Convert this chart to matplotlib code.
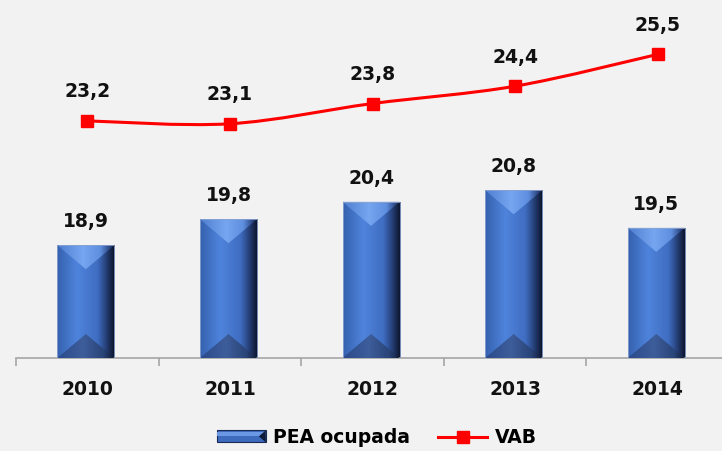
import numpy as np
import matplotlib
matplotlib.use("Agg")
import matplotlib.pyplot as plt
from matplotlib.colors import LinearSegmentedColormap
from matplotlib.patches import Polygon, Rectangle, PathPatch
from matplotlib.path import Path
from matplotlib.lines import Line2D
from matplotlib.legend_handler import HandlerBase

# dados
anos = ["2010", "2011", "2012", "2013", "2014"]
pea_ocupada = [18.9, 19.8, 20.4, 20.8, 19.5]
vab = [23.2, 23.1, 23.8, 24.4, 25.5]

BG = "#F2F2F2"
plt.rcParams["font.family"] = "DejaVu Sans"
plt.rcParams["font.weight"] = "bold"

fig = plt.figure(figsize=(7.22, 4.51), dpi=100, facecolor=BG)
ax = fig.add_axes([16 / 722, 93 / 451, 713 / 722, 347 / 451])
ax.set_facecolor(BG)

x = np.arange(len(anos))
ymin, ymax = 15, 27

# barras com efeito "bevel"
cm_bar = LinearSegmentedColormap.from_list("bar", [(0, "#3561AE"), (0.35, "#4F84DC"), (0.7, "#3F6DC2"),
                                                   (0.87, "#22396C"), (1, "#0A1024")])
cm_top = LinearSegmentedColormap.from_list("top", [(0, "#4F7ED0"), (0.45, "#76A6F0"), (0.75, "#5E8EDF"),
                                                   (0.9, "#2E4A86"), (1, "#16244A")])
cm_bot = LinearSegmentedColormap.from_list("bot", [(0, "#2B4A8A"), (0.45, "#3D5D9B"), (0.8, "#2A4478"),
                                                   (1, "#0E1830")])
grad = np.linspace(0, 1, 256).reshape(1, -1)

bars = ax.bar(x - 0.01, [v - ymin for v in pea_ocupada], bottom=ymin, width=0.4,
              color="none", edgecolor="none", zorder=2)
px_per_unit = 347 / (ymax - ymin)
bevel = 24 / px_per_unit
for b in bars:
    x0, y0 = b.get_x(), b.get_y()
    w, h = b.get_width(), b.get_height()
    im = ax.imshow(grad, cmap=cm_bar, extent=[x0, x0 + w, y0, y0 + h], aspect="auto", zorder=2)
    im.set_clip_path(b)
    top = Polygon([[x0, y0 + h], [x0 + w, y0 + h], [x0 + w / 2, y0 + h - bevel]], closed=True,
                  facecolor="none", edgecolor="none", transform=ax.transData)
    ax.add_patch(top)
    im2 = ax.imshow(grad, cmap=cm_top, extent=[x0, x0 + w, y0, y0 + h], aspect="auto", zorder=3)
    im2.set_clip_path(top)
    bot = Polygon([[x0, y0], [x0 + w, y0], [x0 + w / 2, y0 + bevel]], closed=True,
                  facecolor="none", edgecolor="none", transform=ax.transData)
    ax.add_patch(bot)
    im3 = ax.imshow(grad, cmap=cm_bot, extent=[x0, x0 + w, y0, y0 + h], aspect="auto", zorder=3)
    im3.set_clip_path(bot)
    ax.add_patch(Rectangle((x0, y0), w, h, facecolor="none", edgecolor="#8CA3CF", lw=0.6, zorder=4))

for xi, v in zip(x, pea_ocupada):
    ax.annotate(f"{v:.1f}".replace(".", ","), (xi - 0.01, v), xytext=(0, 13), textcoords="offset points",
                ha="center", va="baseline", fontsize=13.5, fontweight="bold", color="#111111")

# linha suavizada (Catmull-Rom -> Bezier)
pts = np.column_stack([x, vab]).astype(float)
ext = np.vstack([pts[0], pts, pts[-1]])
verts = [tuple(pts[0])]
codes = [Path.MOVETO]
for i in range(len(pts) - 1):
    p0, p1, p2, p3 = ext[i], ext[i + 1], ext[i + 2], ext[i + 3]
    c1 = p1 + (p2 - p0) / 6
    c2 = p2 - (p3 - p1) / 6
    verts += [tuple(c1), tuple(c2), tuple(p2)]
    codes += [Path.CURVE4] * 3
ax.add_patch(PathPatch(Path(verts, codes), facecolor="none", edgecolor="#FF0000", lw=2.2, zorder=5))
ax.plot(x, vab, linestyle="none", marker="s", markersize=9, color="#FF0000", zorder=6)

for xi, v in zip(x, vab):
    ax.annotate(f"{v:.1f}".replace(".", ","), (xi, v), xytext=(0, 17), textcoords="offset points",
                ha="center", va="baseline", fontsize=13.5, fontweight="bold", color="#111111")

ax.set_xlim(-0.5, len(anos) - 0.5)
ax.set_ylim(ymin, ymax)
for s in ["top", "right", "left"]:
    ax.spines[s].set_visible(False)
ax.spines["bottom"].set_color("#A6A6A6")
ax.spines["bottom"].set_linewidth(1.2)
ax.set_yticks([])
ax.set_xticks(x)
ax.set_xticklabels(anos, fontsize=13.5, fontweight="bold", color="#111111")
ax.set_xticks(np.arange(-0.5, len(anos)), minor=True)
ax.tick_params(axis="x", which="major", length=0, pad=16)
ax.tick_params(axis="x", which="minor", length=6, width=1.2, color="#A6A6A6")


class BevelHandler(HandlerBase):
    def create_artists(self, legend, orig, xd, yd, width, height, fontsize, trans):
        body = Rectangle((-xd, -yd), width, height, facecolor="#3E6BBE", edgecolor="#1A2A55",
                         lw=0.8, transform=trans)
        band = Rectangle((-xd, -yd + height * 0.55), width, height * 0.35, facecolor="#6A98E4",
                         edgecolor="none", transform=trans)
        cap = Polygon([[-xd + width - 5, -yd + height / 2], [-xd + width, -yd],
                       [-xd + width, -yd + height]], closed=True, facecolor="#0F1A38",
                      edgecolor="none", transform=trans)
        return [body, band, cap]


proxy_bar = Rectangle((0, 0), 1, 1)
handles = [proxy_bar, Line2D([], [], color="#FF0000", lw=2.2, marker="s", markersize=9)]
fig.legend(handles, ["PEA ocupada", "VAB"], loc="center", bbox_to_anchor=(0.522, 0.03), ncol=2,
           frameon=False, handlelength=2.6, handleheight=0.6, handletextpad=0.4,
           columnspacing=1.5, prop={"weight": "bold", "size": 13.5},
           handler_map={proxy_bar: BevelHandler()})

fig.savefig("out.png", dpi=100, facecolor=BG)
